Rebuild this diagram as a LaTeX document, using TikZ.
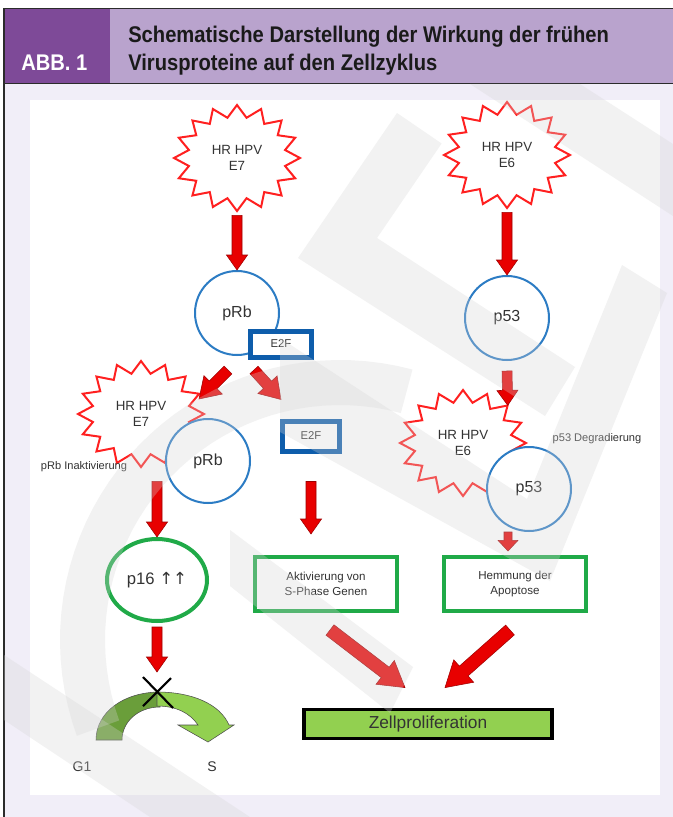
\documentclass[tikz,border=0pt]{standalone}
\usepackage{fontspec}
\setmainfont{Liberation Sans}
\newfontfamily\headfont[FakeStretch=0.89]{Liberation Sans}
\newfontfamily\pfeilfont{DejaVu Sans}
\usetikzlibrary{calc,shapes.geometric,shadows}

\definecolor{abbpurple}{HTML}{7E4A98}
\definecolor{headpurple}{HTML}{B9A3CD}
\definecolor{lavender}{HTML}{F1EEF8}
\definecolor{framegray}{HTML}{2B2B2B}
\definecolor{titleblack}{HTML}{1A1A1A}
\definecolor{starred}{HTML}{FF2020}
\definecolor{arrowred}{HTML}{E80000}
\definecolor{arrowedge}{HTML}{9E0000}
\definecolor{ringblue}{HTML}{2C7CC4}
\definecolor{boxblue}{HTML}{0E5DAB}
\definecolor{cellgreen}{HTML}{20AA48}
\definecolor{zellgreen}{HTML}{92D050}
\definecolor{darkleaf}{HTML}{6A9E3A}
\definecolor{labelgray}{HTML}{333333}
\definecolor{markgray}{HTML}{D5D5D5}

\tikzset{
  fatarrow/.style n args={3}{draw=arrowedge, fill=arrowred, line width=0.4pt, line join=miter,
    to path={($(\tikztostart)!#1!90:(\tikztotarget)$)
      -- ($(\tikztotarget)!#3!(\tikztostart)!#1!-90:(\tikztostart)$)
      -- ($(\tikztotarget)!#3!(\tikztostart)!#2!-90:(\tikztostart)$)
      -- (\tikztotarget)
      -- ($(\tikztotarget)!#3!(\tikztostart)!#2!90:(\tikztostart)$)
      -- ($(\tikztotarget)!#3!(\tikztostart)!#1!90:(\tikztostart)$)
      -- ($(\tikztostart)!#1!-90:(\tikztotarget)$) -- cycle}},
  redarrow/.style={fatarrow={3.75pt}{7.9pt}{11.25pt}},
  shortarrow/.style={fatarrow={3pt}{7.5pt}{8pt}},
  midarrow/.style={fatarrow={4.1pt}{9.75pt}{15pt}},
  bigarrow/.style={fatarrow={4.9pt}{11.25pt}{18.75pt}},
  burstline/.style={draw=starred, fill=white, line width=1.5pt, line join=miter},
  bursttext/.style={ellipse, minimum width=94.5pt, minimum height=79.5pt, inner sep=0pt,
    align=center, text=labelgray, font=\fontsize{10pt}{12pt}\selectfont},
  bluering/.style={circle, draw=ringblue, line width=1.5pt, fill=white, minimum size=63pt,
    inner sep=0pt, text=labelgray, font=\fontsize{12pt}{14pt}\selectfont},
  e2fbox/.style={rectangle, draw=boxblue, line width=3.75pt, fill=white, minimum width=45.75pt,
    minimum height=19.5pt, inner sep=0pt, text=labelgray, font=\fontsize{8.5pt}{10pt}\selectfont},
  greenring/.style={ellipse, draw=cellgreen, line width=3pt, fill=white, minimum width=75pt,
    minimum height=61.5pt, inner sep=0pt, text=labelgray, font=\fontsize{12.5pt}{14pt}\selectfont},
  greenbox/.style={rectangle, draw=cellgreen, line width=3pt, fill=white, minimum width=106.5pt,
    minimum height=40.5pt, align=center, inner sep=0pt, text=labelgray,
    font=\fontsize{8.7pt}{11pt}\selectfont},
  zellbox/.style={rectangle, draw=black, line width=2.6pt, fill=zellgreen, minimum width=186pt,
    minimum height=22pt, inner sep=0pt, text=labelgray, font=\fontsize{13pt}{15pt}\selectfont,
    drop shadow={shadow xshift=1.2pt, shadow yshift=-1.2pt, fill=black, opacity=0.35}},
  smalltext/.style={inner sep=0pt, text=labelgray, font=\fontsize{8.3pt}{10pt}\selectfont},
  phase/.style={inner sep=0pt, text=labelgray, font=\fontsize{10.5pt}{12pt}\selectfont},
  headtext/.style={inner sep=0pt, text=titleblack, font=\headfont\bfseries\fontsize{17pt}{20pt}\selectfont},
  leafdark/.style={fill=darkleaf, draw=black!70, line width=0.4pt},
  leaflight/.style={fill=zellgreen, draw=black!70, line width=0.4pt},
  xmark/.style={draw=black, line width=1.6pt},
  watermark/.style={fill=markgray, opacity=0.3}
}

\newcommand{\burst}[3]{%
  \filldraw[burstline, shift={(#2)}, domain=0:32, samples=33, variable=\k]
    plot ({(56+7*cos(180*\k))*cos(90+11.25*\k)}, {(47+6*cos(180*\k))*sin(90+11.25*\k)}) -- cycle;
  \node[bursttext] (#1) at (#2) {#3};}

\begin{document}
\begin{tikzpicture}[x=0.75pt, y=-0.75pt]
\useasboundingbox (0,0) rectangle (673,817);
\fill[white] (0,0) rectangle (673,817);
\fill[lavender] (4,84) rectangle (673,817);
\fill[abbpurple] (4,9) rectangle (110,83);
\fill[headpurple] (110,9) rectangle (673,83);
\draw[framegray, line width=1.1pt] (673,8.5) -- (4,8.5) -- (4,817);
\draw[framegray, line width=0.7pt] (4,83.5) -- (673,83.5);
\fill[white] (30,100) rectangle (660,795);

\node[headtext, text=white, anchor=base west] (abb) at (21,70) {ABB. 1};
\node[headtext, anchor=base west] (title) at (128,43) {Schematische Darstellung der Wirkung der frühen};
\node[headtext, anchor=base west] (title2) at (128,70) {Virusproteine auf den Zellzyklus};

\burst{e7a}{237,158}{HR HPV\\E7}
\node[bluering] (prb1) at (237,313) {pRb};
\node[e2fbox] (e2f1) at (281,344) {E2F};
\burst{e6a}{507,155}{HR HPV\\E6}
\node[bluering] (p53a) at (507,318) {p53};
\burst{e7b}{141,414}{HR HPV\\E7}
\node[bluering] (prb2) at (208,461) {pRb};
\node[e2fbox, minimum width=43pt, minimum height=22.5pt] (e2f2) at (311,436) {E2F};
\burst{e6b}{463,443}{HR HPV\\E6}
\node[bluering] (p53b) at (529,489) {p53};
\node[smalltext] (inakt) at (84,467) {pRb Inaktivierung};
\node[smalltext] (degr) at (597,439) {p53 Degradierung};
\node[greenring] (p16) at (157,580) {p16 {\pfeilfont ↑↑}};
\node[greenbox] (akt) at (326,584) {Aktivierung von\\S-Phase Genen};
\node[greenbox] (hem) at (515,584) {Hemmung der\\Apoptose};
\node[zellbox] (zell) at (428,724) {Zellproliferation};
\node[phase] (g1) at (82,767) {G1};
\node[phase] (sph) at (212,767) {S};

\coordinate (a1s) at ($(e7a.south)+(0,4)$);
\coordinate (a2s) at ($(e6a.south)+(0,4)$);
\coordinate (a3s) at ($(p53a.south)+(0,10)$);
\coordinate (d1s) at ($(prb1.south)+(-9,14)$);
\coordinate (d1e) at ($(prb2.north)+(-9,-19)$);
\coordinate (d2s) at ($(prb1.south)+(17,14)$);
\coordinate (d2e) at ($(e2f2.north)+(-30,-19)$);
\coordinate (a4s) at ($(e7b.south)+(16,14)$);
\coordinate (a5s) at ($(e2f2.south)+(0,28)$);
\coordinate (a5e) at ($(akt.north)+(-15,-21)$);
\coordinate (a6s) at ($(hem.north)+(-7,-23)$);
\coordinate (a6e) at ($(hem.north)+(-7,-4)$);
\coordinate (a7s) at ($(p16.south)+(0,4)$);
\coordinate (stop) at (157,672);
\coordinate (d3s) at ($(akt.south)+(4,17)$);
\coordinate (d3e) at ($(zell.north)+(-23,-20)$);
\coordinate (d4s) at ($(hem.south)+(-5,17)$);
\coordinate (d4e) at ($(zell.north)+(17,-20)$);

\draw[redarrow] (a1s) to (prb1.north);
\draw[redarrow] (a2s) to (p53a.north);
\draw[redarrow] (a3s) to (e6b.north east);
\draw[midarrow] (d1s) to (d1e);
\draw[midarrow] (d2s) to (d2e);
\draw[redarrow] (a4s) to (p16.north);
\draw[redarrow] (a5s) to (a5e);
\draw[shortarrow] (a6s) to (a6e);
\draw[redarrow] (a7s) to (stop);
\draw[bigarrow] (d3s) to (d3e);
\draw[bigarrow] (d4s) to (d4e);

\filldraw[leafdark] (96,740) .. controls (96,712) and (124,692) .. (160,692) -- (160,707)
  .. controls (138,707) and (122,722) .. (122,740) -- cycle;
\filldraw[leaflight] (157,692) .. controls (192,692) and (220,704) .. (229,725) -- (234,725)
  -- (208,742) -- (178,725) -- (198,725) .. controls (190,713) and (176,706) .. (157,706) -- cycle;
\draw[xmark] (143,677) -- (173,708) (171,678) -- (143,706);

\begin{scope}
\clip (4,84) rectangle (673,817);
\fill[watermark] (298,258) -- (397,113) -- (441.6,143.5) -- (377,238) -- (575,367) -- (545,416) -- cycle;
\fill[watermark] (280,338) -- (527,499) -- (622,265) -- (667,293) -- (550,581) -- (280,432) -- cycle;
\fill[watermark] (470,84) -- (580,84) -- (673,144) -- (673,216) -- cycle;
\fill[watermark] (230,530) -- (413,667) -- (390,713) -- (230,586) -- cycle;
\fill[watermark] (4,655) -- (4,720) -- (150,817) -- (250,817) -- cycle;
\fill[watermark, variable=\t, samples=40] plot[domain=160:285] ({340+280*cos(\t)},{640+280*sin(\t)})
  -- plot[domain=285:160] ({340+235*cos(\t)},{640+235*sin(\t)}) -- cycle;
\end{scope}
\end{tikzpicture}
\end{document}
